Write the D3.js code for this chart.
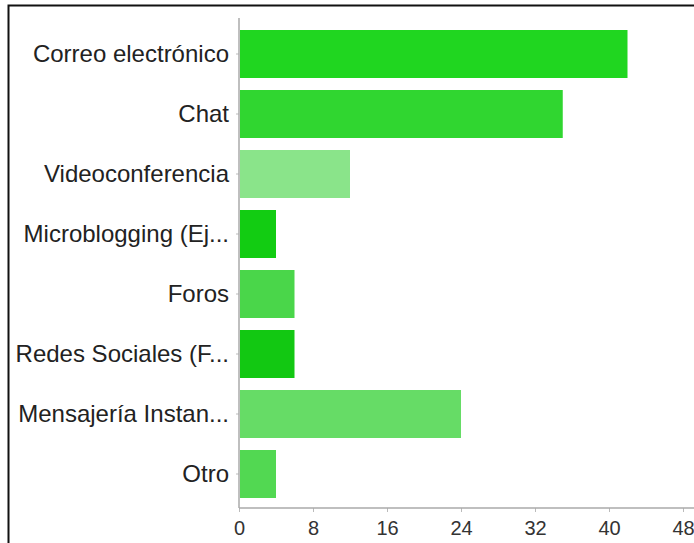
<!DOCTYPE html>
<html>
<head>
<meta charset="utf-8">
<script src="https://cdn.jsdelivr.net/npm/d3@7/dist/d3.min.js"></script>
<style>
  html, body { margin: 0; padding: 0; background: #fff; }
  svg { display: block; }
  text { font-family: "Liberation Sans", Arial, Helvetica, sans-serif; }
</style>
</head>
<body>
<svg id="chart" width="694" height="543"></svg>
<script>
// Categories and response counts
const categories = [
  "Correo electrónico",
  "Chat",
  "Videoconferencia",
  "Microblogging (Ej...",
  "Foros",
  "Redes Sociales (F...",
  "Mensajería Instan...",
  "Otro"
];
const counts = [42, 35, 12, 4, 6, 6, 24, 4];
const tickValues = [0, 8, 16, 24, 32, 40, 48];

// Per-bar fill shades
const barColors = ["#20d620", "#30d630", "#8ae48a", "#12cc12", "#4ad64a", "#12c812", "#66dc66", "#52d852"];

const svg = d3.select("#chart");
const W = 694, H = 543;

// Outer frame (top and left edges)
svg.append("path")
  .attr("d", `M8.5,${H} L8.5,5.5 L${W},5.5`)
  .attr("fill", "none")
  .attr("stroke", "#111")
  .attr("stroke-width", 2);

const x = d3.scaleLinear().domain([0, 48]).range([239, 683]);
const y = d3.scaleBand().domain(categories).range([24, 504])
  .paddingInner(0.2).paddingOuter(0.1);

const data = categories.map((c, i) => ({ cat: c, value: counts[i], color: barColors[i] }));

// Bars
svg.append("g").selectAll("rect")
  .data(data)
  .join("rect")
  .attr("x", x(0) + 1)
  .attr("y", d => y(d.cat))
  .attr("width", d => x(d.value) - x(0) - 1)
  .attr("height", y.bandwidth())
  .attr("fill", d => d.color);

// Category axis
const yAxis = svg.append("g")
  .attr("transform", `translate(${x(0)},0)`)
  .call(d3.axisLeft(y).tickSize(3).tickPadding(7));
yAxis.select(".domain").remove();
yAxis.append("line")
  .attr("x1", 0).attr("x2", 0)
  .attr("y1", 18).attr("y2", 508)
  .attr("stroke", "#aaa").attr("stroke-width", 1.5);
yAxis.selectAll(".tick line").attr("stroke", "#bbb");
yAxis.selectAll(".tick text")
  .attr("fill", "#222")
  .style("font-size", "24px")
  .style("font-family", "'Liberation Sans', Arial, sans-serif");

// Value axis
const xAxis = svg.append("g")
  .attr("transform", "translate(0,508)")
  .call(d3.axisBottom(x).tickValues(tickValues).tickSize(4).tickPadding(9));
xAxis.select(".domain").remove();
xAxis.append("line")
  .attr("x1", x(0)).attr("x2", W)
  .attr("y1", 0).attr("y2", 0)
  .attr("stroke", "#aaa").attr("stroke-width", 1.5);
xAxis.selectAll(".tick line").attr("stroke", "#bbb");
xAxis.selectAll(".tick text")
  .attr("fill", "#333")
  .style("font-size", "20px")
  .style("font-family", "'Liberation Sans', Arial, sans-serif");
</script>
</body>
</html>
